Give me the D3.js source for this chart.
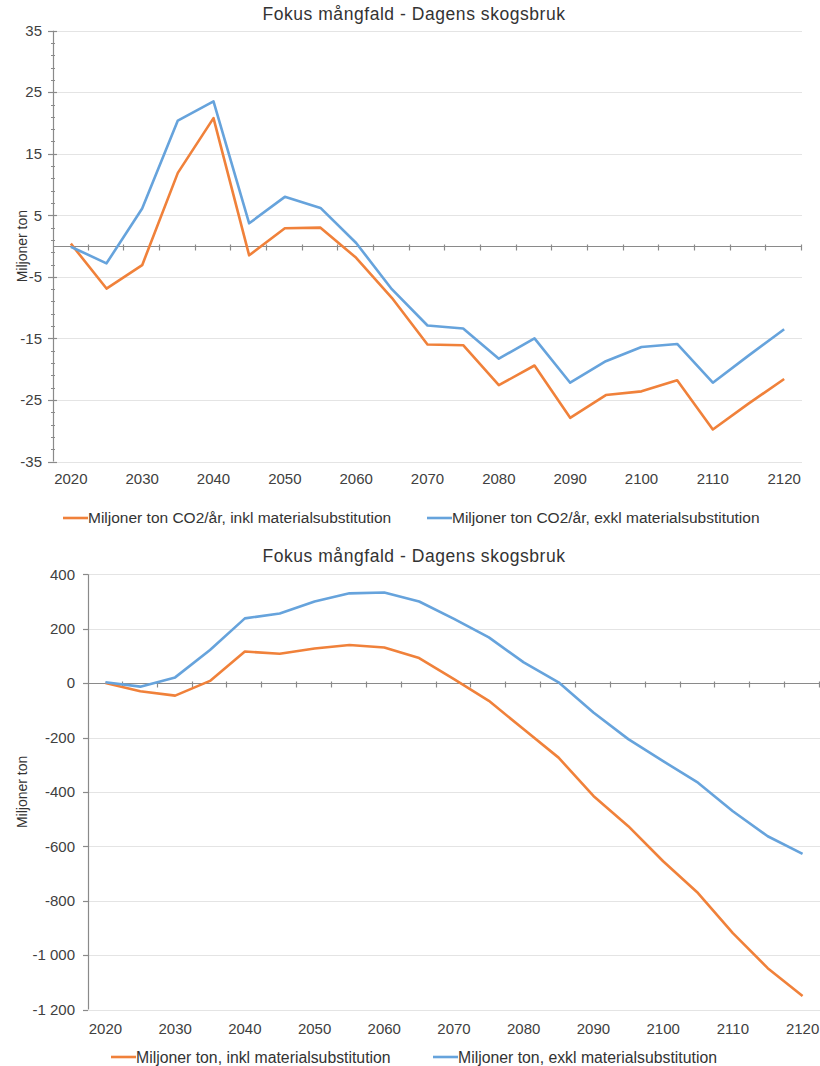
<!DOCTYPE html>
<html><head><meta charset="utf-8">
<script src="https://cdn.jsdelivr.net/npm/d3@7"></script>
<style>
html,body{margin:0;padding:0;background:#fff;}
svg{display:block;font-family:"Liberation Sans",Arial,sans-serif;}
</style></head><body>
<svg id="c" width="820" height="1066"></svg>
<script>
const years = [2020,2025,2030,2035,2040,2045,2050,2055,2060,2065,2070,2075,2080,2085,2090,2095,2100,2105,2110,2115,2120];
const xLabels = [2020,2030,2040,2050,2060,2070,2080,2090,2100,2110,2120];
const title = "Fokus mångfald - Dagens skogsbruk";
const yTitle = "Miljoner ton";

// Chart 1: annual, Miljoner ton CO2/år
const topInkl = [0.4,-6.9,-3.1,11.9,20.8,-1.5,2.9,3.0,-1.9,-8.4,-16.0,-16.1,-22.6,-19.4,-27.9,-24.2,-23.6,-21.8,-29.8,-25.6,-21.6];
const topExkl = [-0.1,-2.8,6.1,20.4,23.5,3.7,8.0,6.2,0.5,-7.0,-12.9,-13.4,-18.3,-15.0,-22.2,-18.7,-16.4,-15.9,-22.2,-17.8,-13.5];
const topTicks = [35,25,15,5,-5,-15,-25,-35];
const topLegend = ["Miljoner ton CO2/år, inkl materialsubstitution","Miljoner ton CO2/år, exkl materialsubstitution"];

// Chart 2: cumulative, Miljoner ton
const botInkl = [0,-30,-46,8,116,108,127,140,131,92,15,-65,-170,-274,-415,-526,-655,-772,-919,-1048,-1150];
const botExkl = [3,-13,21,122,238,256,300,330,333,300,236,168,76,3,-108,-206,-287,-366,-471,-563,-628];
const botTicks = [400,200,0,-200,-400,-600,-800,-1000,-1200];
const botLegend = ["Miljoner ton, inkl materialsubstitution","Miljoner ton, exkl materialsubstitution"];

const ORANGE = "#f0813a", BLUE = "#66a3dc";
const svg = d3.select("#c");
const fmt = v => (v < 0 ? "-" : "") + d3.format(",")(Math.abs(v)).replace(/,/g, "\u00a0");

function chart(cfg){
  const g = svg.append("g");
  const x = d3.scaleBand().domain(years).range([cfg.x0, cfg.x1]).padding(0);
  const y = d3.scaleLinear().domain([cfg.ymin, cfg.ymax]).range([cfg.yb, cfg.yt]);
  const cx = d => x(d) + x.bandwidth()/2;

  // title
  g.append("text").attr("x", 414).attr("y", cfg.titleY).attr("text-anchor","middle")
    .attr("font-size", 17.5).attr("letter-spacing", 0.55).attr("fill","#333").text(title);

  // gridlines
  g.append("g").selectAll("line").data(cfg.ticks.filter(t => t !== 0)).join("line")
    .attr("x1", cfg.x0).attr("x2", cfg.x1)
    .attr("y1", d => Math.round(y(d))+0.5).attr("y2", d => Math.round(y(d))+0.5)
    .attr("stroke","#e4e4e4").attr("stroke-width",1.2);

  // y axis
  const ya = g.append("g").attr("transform", `translate(${cfg.x0},0)`);
  ya.append("line").attr("x1",0.5).attr("x2",0.5).attr("y1",cfg.yt).attr("y2",cfg.yb)
    .attr("stroke","#8a8a8a").attr("stroke-width",1.2);
  ya.selectAll("line.maj").data(cfg.ticks).join("line").attr("class","maj")
    .attr("x1",-5).attr("x2",cfg.crossMaj ? 4 : 0)
    .attr("y1", d => Math.round(y(d))+0.5).attr("y2", d => Math.round(y(d))+0.5)
    .attr("stroke","#8a8a8a").attr("stroke-width",1.2);
  if (cfg.minor){
    ya.selectAll("line.min").data(cfg.minor).join("line").attr("class","min")
      .attr("x1",-2).attr("x2",2)
      .attr("y1", d => Math.round(y(d))+0.5).attr("y2", d => Math.round(y(d))+0.5)
      .attr("stroke","#8a8a8a").attr("stroke-width",1);
  }
  ya.selectAll("text").data(cfg.ticks).join("text")
    .attr("x", -cfg.labelGap).attr("y", d => y(d)).attr("dy","0.35em")
    .attr("text-anchor","end").attr("font-size",15).attr("fill","#404040")
    .text(d => fmt(d));

  // y title
  g.append("text").attr("transform", `translate(22,${(cfg.yt+cfg.yb)/2}) rotate(-90)`)
    .attr("text-anchor","middle").attr("dy","0.35em").attr("font-size",14).attr("fill","#333")
    .text(yTitle);

  // x axis at zero
  const y0 = Math.round(y(0))+0.5;
  g.append("line").attr("x1",cfg.x0).attr("x2",cfg.x1).attr("y1",y0).attr("y2",y0)
    .attr("stroke","#8a8a8a").attr("stroke-width",1.2);
  const bounds = years.slice(1).map(d => x(d)).concat([cfg.x1]);
  g.append("g").selectAll("line").data(bounds).join("line")
    .attr("x1", d => Math.round(d)-0.5).attr("x2", d => Math.round(d)-0.5)
    .attr("y1", y0-2).attr("y2", y0+4).attr("stroke","#8a8a8a").attr("stroke-width",1.2);

  // x labels at bottom
  g.append("g").selectAll("text").data(xLabels).join("text")
    .attr("x", d => cx(d)).attr("y", cfg.xLabelY).attr("dy","0.35em")
    .attr("text-anchor","middle").attr("font-size",15).attr("fill","#404040")
    .text(d => d);

  // lines
  const line = d3.line().x((d,i) => cx(years[i])).y(d => y(d));
  [[cfg.inkl, ORANGE],[cfg.exkl, BLUE]].forEach(([data,col]) => {
    g.append("path").datum(data).attr("d", line).attr("fill","none")
      .attr("stroke", col).attr("stroke-width",2.6).attr("stroke-linejoin","round");
  });

  // legend
  cfg.legend.forEach((lab,i) => {
    const lx = cfg.legX[i];
    g.append("line").attr("x1",lx).attr("x2",lx+25).attr("y1",cfg.legY).attr("y2",cfg.legY)
      .attr("stroke", i===0 ? ORANGE : BLUE).attr("stroke-width",2.6);
    g.append("text").attr("x",lx+25).attr("y",cfg.legY).attr("dy","0.35em")
      .attr("font-size",cfg.legFont).attr("fill","#333").text(lab);
  });
}

const topMinor = d3.range(-35, 36, 2).filter(v => topTicks.indexOf(v) < 0);

chart({x0:53, x1:802, yt:30.7, yb:461.5, ymin:-35, ymax:35,
  ticks:topTicks, minor:topMinor, crossMaj:true, labelGap:11,
  inkl:topInkl, exkl:topExkl, titleY:20, xLabelY:479,
  legend:topLegend, legX:[63,427], legY:518, legFont:15.5});

chart({x0:88, x1:820, yt:574.3, yb:1009.5, ymin:-1200, ymax:400,
  ticks:botTicks, minor:null, crossMaj:false, labelGap:13,
  inkl:botInkl, exkl:botExkl, titleY:562, xLabelY:1029,
  legend:botLegend, legX:[111,433], legY:1057, legFont:15.8});
</script>
</body></html>
